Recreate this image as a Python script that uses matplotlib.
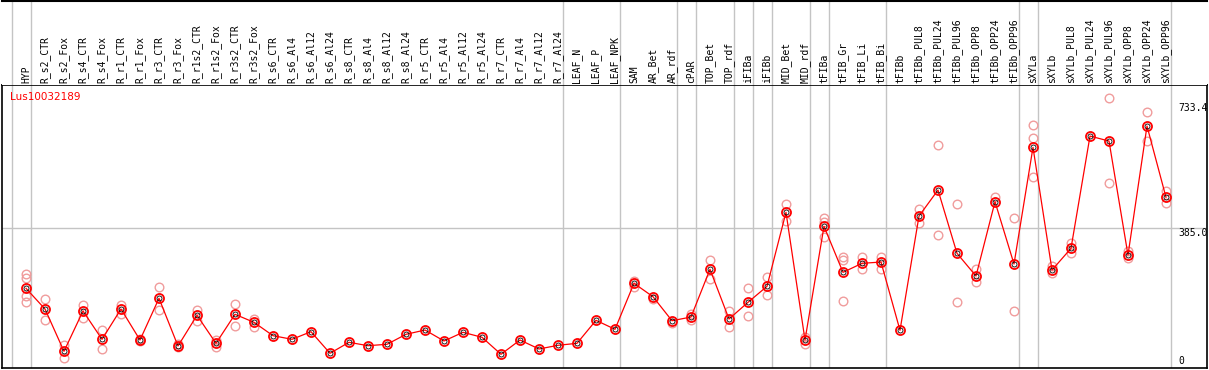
import matplotlib
matplotlib.use("Agg")
import matplotlib.pyplot as plt

# Categorias (muestras) en el eje x
categories = [
    "HYP", "R_s2_CTR", "R_s2_Fox", "R_s4_CTR", "R_s4_Fox", "R_r1_CTR", "R_r1_Fox",
    "R_r3_CTR", "R_r3_Fox", "R_r1s2_CTR", "R_r1s2_Fox", "R_r3s2_CTR", "R_r3s2_Fox",
    "R_s6_CTR", "R_s6_Al4", "R_s6_Al12", "R_s6_Al24", "R_s8_CTR", "R_s8_Al4",
    "R_s8_Al12", "R_s8_Al24", "R_r5_CTR", "R_r5_Al4", "R_r5_Al12", "R_r5_Al24",
    "R_r7_CTR", "R_r7_Al4", "R_r7_Al12", "R_r7_Al24", "LEAF_N", "LEAF_P", "LEAF_NPK",
    "SAM", "AR_Bet", "AR_rdf", "cPAR", "TOP_Bet", "TOP_rdf", "iFIBa", "iFIBb",
    "MID_Bet", "MID_rdf", "tFIBa", "tFIB_Gr", "tFIB_Li", "tFIB_Bi", "tFIBb",
    "tFIBb_PUL8", "tFIBb_PUL24", "tFIBb_PUL96", "tFIBb_OPP8", "tFIBb_OPP24", "tFIBb_OPP96",
    "sXYLa", "sXYLb", "sXYLb_PUL8", "sXYLb_PUL24", "sXYLb_PUL96", "sXYLb_OPP8",
    "sXYLb_OPP24", "sXYLb_OPP96",
]

# Valores medios por muestra
means = [
    216.8, 159.1, 41.2, 153.6, 74.7, 159.1, 72.7, 189.0, 56.0, 141.6, 63.5, 144.4, 122.0,
    84.8, 74.7, 95.9, 35.7, 66.3, 56.9, 60.8, 88.6, 100.6, 70.0, 94.2, 80.3,
    32.9, 72.7, 47.7, 58.0, 63.5, 127.6, 102.6,
    230.8, 193.4, 126.5, 136.8, 269.8, 131.3, 177.8, 222.4,
    428.7, 72.7, 389.6, 261.4, 286.5, 290.1, 99.8,
    418.3, 490.8, 314.4, 251.1, 458.2, 284.6,
    609.8, 267.8, 328.3, 641.3, 627.4, 309.6, 669.2, 470.5,
]

# Replicas individuales (las que se distinguen en la figura)
replicates = [
    [255.9, 244.7, 196.2, 177.8], [186.2, 128.5], [58.8, 23.4], [170.3, 134.9],
    [100.6, 46.8], [170.3, 145.2], [76.0, 70.0], [219.6, 155.5], [61.6, 52.4],
    [156.4, 126.5], [72.7, 52.4], [172.2, 112.6], [130.4, 109.8],
    [], [], [], [], [], [], [], [], [], [], [], [],
    [], [], [], [], [], [], [],
    [238.0, 221.0], [187.0], [121.0], [145.2, 128.5], [295.7, 243.6], [153.6, 109.0],
    [216.8, 138.8], [247.5, 197.3],
    [451.0, 404.4], [82.0, 60.8], [412.8, 402.5, 360.7], [303.2, 295.7, 180.6],
    [303.2, 271.5], [303.2, 271.5], [],
    [437.8, 399.7], [615.4, 364.5], [451.0, 178.6], [269.8, 234.4], [470.5], [411.9, 153.6],
    [671.1, 634.9, 526.2], [279.0, 258.6], [342.3, 314.4], [], [746.4, 509.5],
    [321.6, 300.4], [709.0, 627.4], [488.0, 453.7],
]

# Indices tras los cuales hay una linea separadora de grupo
group_ends = [-1, 0, 28, 31, 34, 35, 37, 38, 39, 41, 42, 45, 52, 53, 60]

gene_name = "Lus10032189"
y_marks = [733.4, 385.0, 0]
y_mark_labels = ["733.4", "385.0", "0"]

W, H = 1209, 370
fig = plt.figure(figsize=(W / 100, H / 100), dpi=100)

# escala horizontal: muestra i -> pixel 26 + 19*i
x_left = (2 - 26) / 19
x_right = (1207 - 26) / 19
# escala vertical: 0 -> pixel 366, 385 -> pixel 228
px_per_unit = (366.1 - 228) / 385.0
y_bottom = (366.1 - 368) / px_per_unit
y_top = (366.1 - 85) / px_per_unit

ax = fig.add_axes([2 / W, 2 / H, 1205 / W, 283 / H])
head = fig.add_axes([2 / W, 285 / H, 1205 / W, 84 / H], sharex=ax)

ax.set_xlim(x_left, x_right)
ax.set_ylim(y_bottom, y_top)
ax.set_xticks([])
ax.set_yticks([])
for s in ax.spines.values():
    s.set_color("black")
    s.set_linewidth(1.2)

head.set_ylim(0, 1)
head.set_yticks([])
head.tick_params(bottom=False, labelbottom=False)
for name, s in head.spines.items():
    s.set_visible(name == "top")
head.spines["top"].set_linewidth(1.5)

gray = "#c4c4c4"
for b in group_ends:
    xs = b + 0.24
    ax.axvline(xs, color=gray, lw=1, zorder=0)
    head.axvline(xs, color=gray, lw=1, zorder=0)
ax.axhline(385.0, color=gray, lw=1, zorder=0)

# etiquetas verticales de las muestras
for i, c in enumerate(categories):
    head.text(i, 0.02, c, rotation=90, ha="center", va="bottom",
              family="DejaVu Sans Mono", fontsize=7, color="black")

# replicas
rx, ry = [], []
for i, reps in enumerate(replicates):
    for v in reps:
        rx.append(i)
        ry.append(v)
ax.plot(rx, ry, linestyle="none", marker="o", markersize=6.2, markerfacecolor="none",
        markeredgecolor="#f09c9c", markeredgewidth=1.0, zorder=2)

# linea de medias
xs = list(range(len(categories)))
ax.plot(xs, means, color="red", lw=0.9, zorder=3)
ax.plot(xs, means, linestyle="none", marker="o", markersize=6.5, markerfacecolor="none",
        markeredgecolor="red", markeredgewidth=1.3, zorder=4)
ax.plot(xs, means, linestyle="none", marker="o", markersize=3.6, markerfacecolor="none",
        markeredgecolor="black", markeredgewidth=0.6, zorder=5)

# nombre del gen
ax.text(8 / 1205, 1 - 12 / 283, gene_name, transform=ax.transAxes, color="red",
        fontsize=7.5, ha="left", va="center")

# valores de referencia a la derecha
for v, lab in zip(y_marks, y_mark_labels):
    ax.text((1178 - 26) / 19, v, lab, ha="left", va="bottom" if v == 0 else "top",
            family="DejaVu Sans Mono", fontsize=7, color="black")

fig.savefig("out.png", dpi=100)
